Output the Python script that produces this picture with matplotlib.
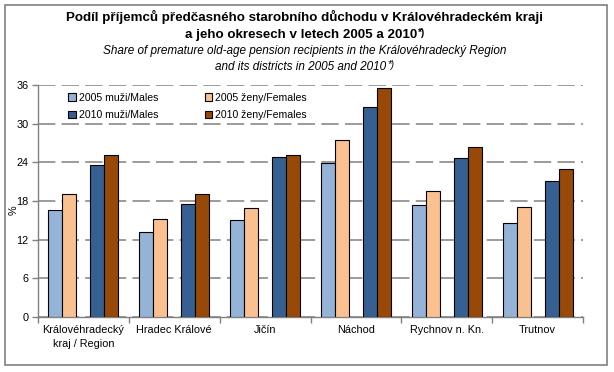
import matplotlib
matplotlib.use("Agg")
import matplotlib.pyplot as plt
import numpy as np
from matplotlib.patches import Rectangle

# data
categories = ["Královéhradecký\nkraj / Region", "Hradec Králové", "Jičín",
              "Náchod", "Rychnov n. Kn.", "Trutnov"]
series_labels = ["2005 muži/Males", "2005 ženy/Females",
                 "2010 muži/Males", "2010 ženy/Females"]
male_2005 = [16.6, 13.2, 15.0, 23.9, 17.4, 14.6]
female_2005 = [19.1, 15.2, 16.9, 27.5, 19.5, 17.1]
male_2010 = [23.6, 17.5, 24.8, 32.6, 24.7, 21.1]
female_2010 = [25.1, 19.1, 25.1, 35.6, 26.4, 22.9]
y_ticks = [0, 6, 12, 18, 24, 30, 36]

colors = ["#95B3D7", "#FAC090", "#376092", "#984807"]
grey = "#808080"
sans = ["Liberation Sans", "DejaVu Sans"]

plt.rcParams["font.family"] = sans
plt.rcParams["lines.scale_dashes"] = False

W, H = 614, 372
fig = plt.figure(figsize=(W / 100, H / 100), dpi=100)
ax = fig.add_axes([38 / W, 1 - 317 / H, (583 - 38) / W, (317 - 85) / H])

x = np.arange(len(categories))
w = 14 / 91
offsets = [-2, -1, 1, 2]
bars = []
for vals, off, col, lab in zip([male_2005, female_2005, male_2010, female_2010],
                               offsets, colors, series_labels):
    bars.append(ax.bar(x + off * w, vals, width=w, color=col, edgecolor="black",
                       linewidth=0.8, label=lab, zorder=3))

ax.set_xlim(-0.5, len(categories) - 0.5)
ax.set_ylim(0, 36)
ax.set_yticks(y_ticks)
ax.yaxis.grid(True, color=grey, linewidth=1.1, linestyle=(0, (12.5, 4.5)), zorder=0)
ax.set_xticks(x)
ax.set_xticklabels(categories, fontsize=7.8, linespacing=1.45)
ax.set_xticks(np.arange(len(categories) + 1) - 0.5, minor=True)
ax.tick_params(axis="x", which="major", length=0, pad=6)
ax.tick_params(axis="x", which="minor", length=4, color=grey, width=1)
ax.tick_params(axis="y", length=4, color=grey, width=1, labelsize=7.8, pad=3)

for s in ["top", "right"]:
    ax.spines[s].set_visible(False)
for s in ["left", "bottom"]:
    ax.spines[s].set_color(grey)
    ax.spines[s].set_linewidth(1)

# legend filled row by row: 2005 pair on top, 2010 pair below
order = [0, 2, 1, 3]
ax.legend([bars[i] for i in order], [series_labels[i] for i in order],
          ncol=2, loc="upper left", bbox_to_anchor=(0.038, 1.008), frameon=False,
          fontsize=7.6, handlelength=0.7, handleheight=0.7, handletextpad=0.3,
          columnspacing=4.4, labelspacing=0.72)

fig.text(14 / W, 1 - 210 / H, "%", rotation=90, ha="center", va="center", fontsize=7.8)

# title lines
fig.text(305 / W, 1 - 17 / H,
         "Podíl příjemců předčasného starobního důchodu v Královéhradeckém kraji",
         ha="center", va="center", fontsize=9.6, fontweight="bold")
t2 = fig.text(301 / W, 1 - 35 / H, "a jeho okresech v letech 2005 a 2010",
              ha="center", va="center", fontsize=9.6, fontweight="bold")
t3 = fig.text(305 / W, 1 - 51 / H,
              "Share of premature old-age pension recipients in the Královéhradecký Region",
              ha="center", va="center", fontsize=8.5, style="italic")
t4 = fig.text(301 / W, 1 - 67 / H, "and its districts in 2005 and 2010",
              ha="center", va="center", fontsize=8.5, style="italic")

fig.canvas.draw()
r = fig.canvas.get_renderer()
for t, fw, st in [(t2, "bold", "normal"), (t4, "normal", "italic")]:
    bb = t.get_window_extent(renderer=r)
    fig.text(bb.x1 / W + 0.002, bb.y1 / H + 0.004, "*)", ha="left", va="top",
             fontsize=7, fontweight=fw, style=st)

fig.add_artist(Rectangle((5 / W, 1 - 365 / H), 602 / W, 360 / H, transform=fig.transFigure,
                         fill=False, edgecolor=grey, linewidth=1.2))

fig.savefig("out.png", dpi=100)
